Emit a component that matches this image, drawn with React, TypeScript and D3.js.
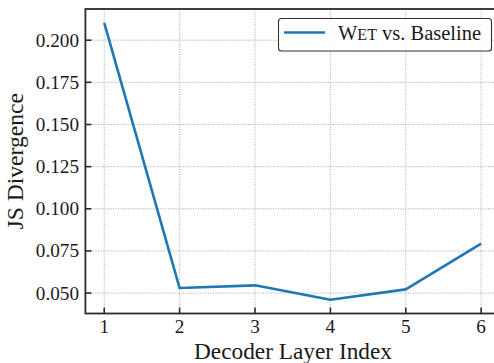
import React from "react";
import * as d3 from "d3";

const layers = [1, 2, 3, 4, 5, 6];
const jsDivergence = [0.2103, 0.053, 0.0546, 0.0461, 0.0522, 0.0793];
const yTicks = [0.05, 0.075, 0.1, 0.125, 0.15, 0.175, 0.2];
const xTicks = [1, 2, 3, 4, 5, 6];

const W = 494;
const H = 363;
const left = 85.4;
const right = 500;
const top = 9;
const bottom = 313.5;
const textStyle = { fontFamily: '"Liberation Serif"' };

export default function App() {
  const x = d3.scaleLinear().domain([0.75, 6.25]).range([left, right]);
  const y = d3.scaleLinear().domain([0.0379, 0.2185]).range([bottom, top]);
  const line = d3
    .line<number>()
    .x((_, i) => x(layers[i]))
    .y((d) => y(d));
  const axisColor = "#2b2b2b";

  return (
    <svg width={W} height={H} style={{ position: "absolute", left: 0, top: 0 }}>
      <rect width={W} height={H} fill="#fff" />
      {/* grid */}
      <g stroke="#aaaaaa" strokeWidth={0.9} strokeDasharray="1.2,1.3">
        {xTicks.map((t) => (
          <line key={"gx" + t} x1={x(t)} x2={x(t)} y1={top} y2={bottom} />
        ))}
        {yTicks.map((t) => (
          <line key={"gy" + t} x1={left} x2={right} y1={y(t)} y2={y(t)} />
        ))}
      </g>
      {/* series */}
      <path
        d={line(jsDivergence) ?? ""}
        fill="none"
        stroke="#1f77b4"
        strokeWidth={2.6}
        strokeLinejoin="round"
      />
      {/* ticks (inward) */}
      <g stroke={axisColor} strokeWidth={1.6}>
        {xTicks.map((t) => (
          <line key={"tx" + t} x1={x(t)} x2={x(t)} y1={bottom} y2={bottom - 6} />
        ))}
        {yTicks.map((t) => (
          <line key={"ty" + t} x1={left} x2={left + 6} y1={y(t)} y2={y(t)} />
        ))}
      </g>
      {/* spines */}
      <rect
        x={left}
        y={top}
        width={right - left}
        height={bottom - top}
        fill="none"
        stroke={axisColor}
        strokeWidth={1.8}
      />
      {/* tick labels */}
      {xTicks.map((t) => (
        <text key={"lx" + t} x={x(t)} y={333} textAnchor="middle" fontSize={19.2} fill="#1a1a1a" style={textStyle}>
          {t}
        </text>
      ))}
      {yTicks.map((t) => (
        <text key={"ly" + t} x={79} y={y(t) + 6.5} textAnchor="end" fontSize={19.2} fill="#1a1a1a" style={textStyle}>
          {d3.format(".3f")(t)}
        </text>
      ))}
      {/* axis labels */}
      <text x={(194 + 392) / 2} y={359} textAnchor="middle" fontSize={23.3} fill="#1a1a1a" style={textStyle}>
        Decoder Layer Index
      </text>
      <text
        transform={`translate(22.5,${(top + bottom) / 2}) rotate(-90)`}
        textAnchor="middle"
        fontSize={23.6}
        fill="#1a1a1a"
        style={textStyle}
      >
        JS Divergence
      </text>
      {/* legend */}
      <rect
        x={278.5}
        y={18.5}
        width={213}
        height={32.5}
        rx={3}
        fill="#fff"
        fillOpacity={0.85}
        stroke="#333"
        strokeWidth={1.1}
      />
      <line x1={284} x2={325} y1={32.5} y2={32.5} stroke="#1f77b4" strokeWidth={2.6} />
      <text x={338} y={39.5} fontSize={20.5} fill="#1a1a1a" style={textStyle}>
        W<tspan fontSize={16}>ET</tspan> vs. Baseline
      </text>
    </svg>
  );
}
